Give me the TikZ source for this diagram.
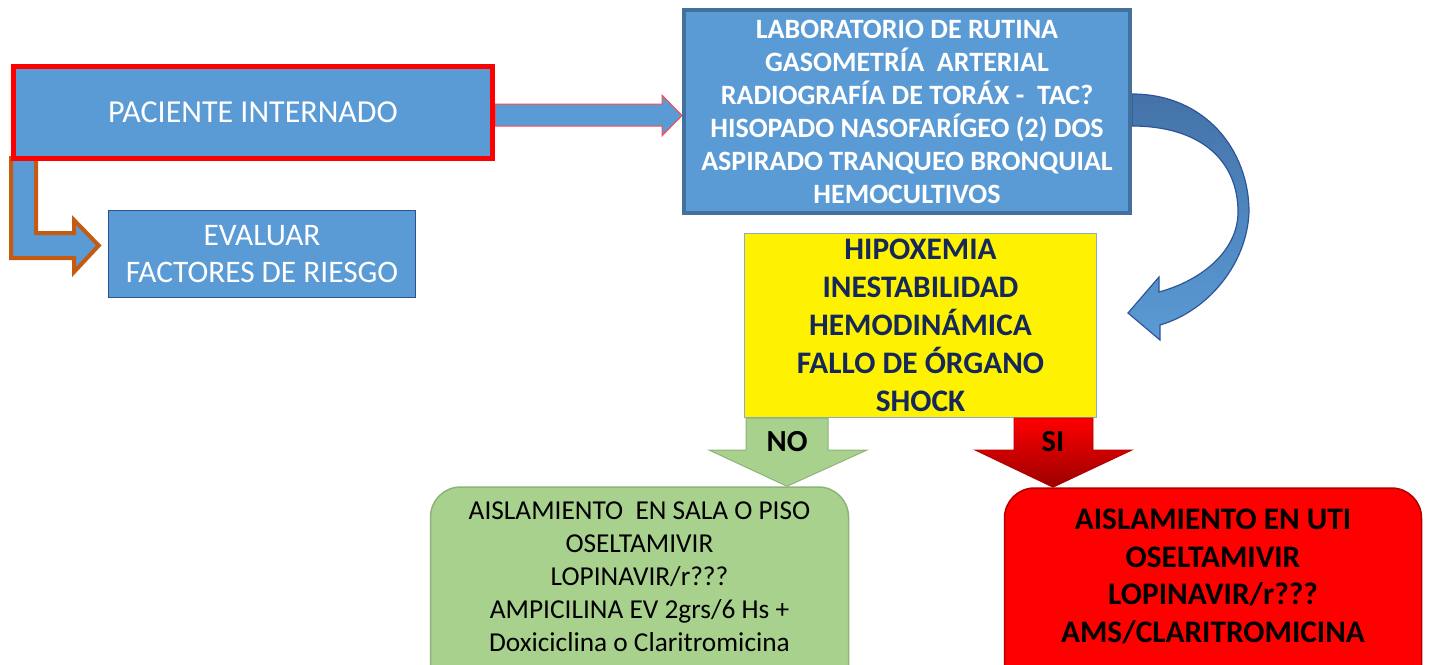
\documentclass[tikz,border=0pt]{standalone}
\usepackage{fontspec}
\setmainfont{Carlito}
\usetikzlibrary{backgrounds,calc}
\definecolor{boxblue}{HTML}{5B9BD5}
\definecolor{labborder}{HTML}{41719C}
\definecolor{evalborder}{HTML}{2F528F}
\definecolor{curvetop}{HTML}{4372A8}
\definecolor{curveborder}{HTML}{2F5597}
\definecolor{lorange}{HTML}{C55A11}
\definecolor{rarrowborder}{HTML}{FF4B4B}
\definecolor{noteal}{HTML}{A9D18E}
\definecolor{noborder}{HTML}{8FB27A}
\definecolor{yelborder}{HTML}{8EA9C8}
\definecolor{navytext}{HTML}{14285A}
\definecolor{darkred}{HTML}{9A0000}
\definecolor{redborder}{HTML}{B00000}
\newcommand{\pxu}{0.75pt}
\begin{document}
\begin{tikzpicture}[x=0.75pt,y=-0.75pt,
  boxbase/.style={rectangle,inner sep=0pt,align=center},
  bluebox/.style={boxbase,fill=boxblue,text=white},
  roundbox/.style={boxbase,rounded corners=30*\pxu,line width=1.5*\pxu},
  txtnode/.style={inner sep=0pt,align=center}]
\useasboundingbox (0,0) rectangle (1430,664);
\clip (0,0) rectangle (1430,664);
% nodes
\node[bluebox,draw=red,line width=5*\pxu,minimum width=479*\pxu,minimum height=92*\pxu,
  font={\fontsize{24}{28}\selectfont}] (pac) at (253,112.5) {PACIENTE INTERNADO};
\node[bluebox,draw=labborder,line width=4*\pxu,minimum width=446*\pxu,minimum height=203*\pxu,
  font={\fontsize{21}{24.75}\selectfont\bfseries}] (lab) at (907,111.5)
  {LABORATORIO DE RUTINA\\GASOMETRÍA\ \ ARTERIAL\\RADIOGRAFÍA DE TORÁX -\ \ TAC?\\HISOPADO\ NASOFARÍGEO (2) DOS\\ASPIRADO TRANQUEO BRONQUIAL\\HEMOCULTIVOS};
\node[bluebox,draw=evalborder,line width=1.5*\pxu,minimum width=307*\pxu,minimum height=87*\pxu,
  font={\fontsize{23.5}{27.75}\selectfont}] (eval) at (262,254) {EVALUAR\\FACTORES DE RIESGO};
\node[boxbase,fill=yellow,draw=yelborder,line width=1.2*\pxu,minimum width=352*\pxu,minimum height=184*\pxu,
  text=navytext,font={\fontsize{23.5}{28.5}\selectfont\bfseries}] (yel) at (920.5,325.5)
  {HIPOXEMIA\\INESTABILIDAD\\HEMODINÁMICA\\FALLO DE ÓRGANO\\SHOCK};
\node[roundbox,fill=noteal,draw=noborder,minimum width=418*\pxu,minimum height=213*\pxu] (gbox) at (639.5,593.5) {};
\node[txtnode,font={\fontsize{20.5}{24.75}\selectfont}] (gtext) at (639.5,576.5)
  {AISLAMIENTO\ \ EN SALA O PISO\\OSELTAMIVIR\\LOPINAVIR/r???\\AMPICILINA\ EV\ 2grs/6 Hs +\\Doxiciclina o Claritromicina};
\node[roundbox,fill=red,draw=redborder,minimum width=417*\pxu,minimum height=212*\pxu] (rbox) at (1213,594) {};
\node[txtnode,font={\fontsize{23.5}{28.2}\selectfont\bfseries}] (rtext) at (1213,576.5)
  {AISLAMIENTO EN UTI\\OSELTAMIVIR\\LOPINAVIR/r???\\AMS/CLARITROMICINA};
% block arrows (behind boxes)
\begin{scope}[on background layer]
\draw[fill=boxblue,draw=rarrowborder,line width=1*\pxu]
  (pac.east |- 0,104) -- (662,104) -- (662,95) -- (lab.west |- 0,115.5) -- (662,136) -- (662,126) -- (pac.east |- 0,126) -- cycle;
\draw[fill=boxblue,draw=lorange,line width=4*\pxu,line join=miter]
  (11,158) -- (11,258) -- (74,258) -- (74,272) -- ($(eval.west |- 0,245.5)+(-9,0)$) -- (74,220) -- (74,233) -- (36,233) -- (36,158) -- cycle;
\shadedraw[top color=curvetop,bottom color=boxblue,draw=curveborder,line width=1.2*\pxu]
  (lab.east |- 0,94) .. controls (1205,94) and (1249,150) .. (1249,212)
  .. controls (1247,264) and (1208,311) .. (1160,325) -- (1160,340) -- (1128,313) -- (1159,277) -- (1159,292)
  .. controls (1203,280) and (1238,250) .. (1238,212)
  .. controls (1238,160) and (1200,126) .. (lab.east |- 0,126) -- cycle;
\end{scope}
\draw[fill=noteal,draw=noborder,line width=1*\pxu]
  (746,418) -- (746,450) -- (709,450) -- (gbox.north -| 787,0) -- (867,450) -- (828,450) -- (828,418) -- cycle;
\shadedraw[top color=red,middle color=red,bottom color=darkred,draw=redborder,line width=0.8*\pxu]
  (1014,418) -- (1014,450) -- (975,450) -- (rbox.north -| 1053,0) -- (1132,450) -- (1093,450) -- (1093,418) -- cycle;
\node[txtnode,font={\fontsize{23}{26}\selectfont\bfseries}] (nolab) at (787,442) {NO};
\node[txtnode,font={\fontsize{23}{26}\selectfont\bfseries}] (silab) at (1053,442) {SI};
\end{tikzpicture}
\end{document}
